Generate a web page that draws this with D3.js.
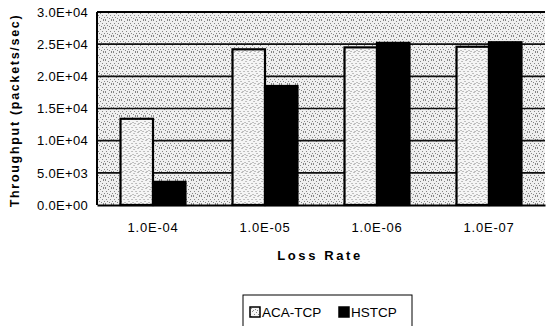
<!DOCTYPE html>
<html>
<head>
<meta charset="utf-8">
<script src="https://cdn.jsdelivr.net/npm/d3@7"></script>
<style>
  html, body { margin: 0; padding: 0; background: #fff; }
  svg { display: block; font-family: "Liberation Sans", Arial, sans-serif; }
</style>
</head>
<body>
<svg id="chart" width="546" height="326"></svg>
<script>
// Throughput per loss rate for the two congestion-control variants
const categories = ["1.0E-04", "1.0E-05", "1.0E-06", "1.0E-07"];
const seriesNames = ["ACA-TCP", "HSTCP"];
const acaTcp = [13400, 24200, 24500, 24600];
const hstcp = [3600, 18500, 25200, 25300];
const yTicks = [0, 5000, 10000, 15000, 20000, 25000, 30000];
const yTickLabels = ["0.0E+00", "5.0E+03", "1.0E+04", "1.5E+04", "2.0E+04", "2.5E+04", "3.0E+04"];

const svg = d3.select("#chart");
const margin = { left: 97, right: 1, top: 12, bottom: 121 };
const W = 546, H = 326;
const plotW = W - margin.left - margin.right;
const plotH = H - margin.top - margin.bottom;

// Stippled fills: scattered dots on a light ground
const defs = svg.append("defs");
function stipple(id, ground, ink, dots) {
  const p = defs.append("pattern").attr("id", id)
    .attr("patternUnits", "userSpaceOnUse").attr("width", 8).attr("height", 8);
  p.append("rect").attr("width", 8).attr("height", 8).attr("fill", ground);
  dots.forEach(([x, y]) =>
    p.append("rect").attr("x", x).attr("y", y).attr("width", 1).attr("height", 1).attr("fill", ink));
}
const bgDots = [[0,0],[3,1],[6,0],[1,3],[5,3],[7,5],[2,5],[4,6],[0,7],[6,7]];
const barDots = [[1,0],[5,1],[3,3],[7,3],[0,5],[4,6],[6,7],[2,7]];
stipple("stipple", "#efefef", "#858585", bgDots);
stipple("stippleBar", "#f5f5f5", "#888888", barDots);

const g = svg.append("g").attr("transform", `translate(${margin.left},${margin.top})`);

const x0 = d3.scaleBand().domain(categories).range([0, plotW]).paddingInner(0.42).paddingOuter(0.21);
const x1 = d3.scaleBand().domain(seriesNames).range([0, x0.bandwidth()]);
const y = d3.scaleLinear().domain([0, 30000]).range([plotH, 0]);

// plot background
g.append("rect").attr("width", plotW).attr("height", plotH).attr("fill", "url(#stipple)");

// gridlines
g.append("g").selectAll("line").data(yTicks.slice(1)).join("line")
  .attr("x1", 0).attr("x2", plotW)
  .attr("y1", d => y(d)).attr("y2", d => y(d))
  .attr("stroke", "#111").attr("stroke-width", 1.6);

// bars
const data = categories.map((c, i) => ({ c, vals: [
  { s: "ACA-TCP", v: acaTcp[i] }, { s: "HSTCP", v: hstcp[i] } ] }));

const grp = g.append("g").selectAll("g").data(data).join("g")
  .attr("transform", d => `translate(${x0(d.c)},0)`);
grp.selectAll("rect").data(d => d.vals).join("rect")
  .attr("x", d => x1(d.s))
  .attr("y", d => y(d.v))
  .attr("width", x1.bandwidth())
  .attr("height", d => plotH - y(d.v))
  .attr("fill", d => d.s === "ACA-TCP" ? "url(#stippleBar)" : "#000")
  .attr("stroke", "#000").attr("stroke-width", 2.2);

// frame: left and top edges plus baseline
g.append("line").attr("x1", 0).attr("x2", plotW).attr("y1", 0).attr("y2", 0)
  .attr("stroke", "#000").attr("stroke-width", 2);
g.append("line").attr("x1", 0).attr("x2", 0).attr("y1", 0).attr("y2", plotH)
  .attr("stroke", "#000").attr("stroke-width", 2);

// y axis
const yAxis = d3.axisLeft(y).tickValues(yTicks).tickFormat((d, i) => yTickLabels[i]).tickSize(0).tickPadding(9);
const ya = g.append("g").call(yAxis);
ya.select(".domain").remove();
ya.selectAll("text").attr("font-size", 13).attr("fill", "#000")
  .attr("font-family", "'Liberation Sans', Arial, sans-serif").attr("letter-spacing", 0.3);

// x axis
const xAxis = d3.axisBottom(x0).tickSize(0).tickPadding(18);
const xa = g.append("g").attr("transform", `translate(0,${plotH})`).call(xAxis);
xa.select(".domain").attr("stroke", "#000").attr("stroke-width", 2);
xa.selectAll("text").attr("font-size", 13).attr("fill", "#000")
  .attr("font-family", "'Liberation Sans', Arial, sans-serif").attr("letter-spacing", 0.8);

// axis titles
svg.append("text").attr("x", margin.left + plotW / 2 - 1).attr("y", 260)
  .attr("text-anchor", "middle").attr("font-size", 13).attr("font-weight", "bold")
  .attr("letter-spacing", 2.6).text("Loss Rate");
svg.append("text").attr("transform", `translate(19,${margin.top + plotH / 2 + 2}) rotate(-90)`)
  .attr("text-anchor", "middle").attr("font-size", 12.5).attr("font-weight", "bold")
  .attr("letter-spacing", 1.7).text("Throughput (packets/sec)");

// legend
const lg = svg.append("g").attr("transform", "translate(243,295)");
lg.append("rect").attr("width", 169).attr("height", 40).attr("fill", "#fff")
  .attr("stroke", "#000").attr("stroke-width", 1);
const items = [{ s: "ACA-TCP", x: 7 }, { s: "HSTCP", x: 96 }];
items.forEach(it => {
  lg.append("rect").attr("x", it.x).attr("y", 12).attr("width", 10).attr("height", 10)
    .attr("fill", it.s === "ACA-TCP" ? "url(#stippleBar)" : "#000")
    .attr("stroke", "#000").attr("stroke-width", 1.5);
  lg.append("text").attr("x", it.x + 12).attr("y", 22).attr("font-size", 13.5)
    .attr("fill", "#000").text(it.s);
});
</script>
</body>
</html>
